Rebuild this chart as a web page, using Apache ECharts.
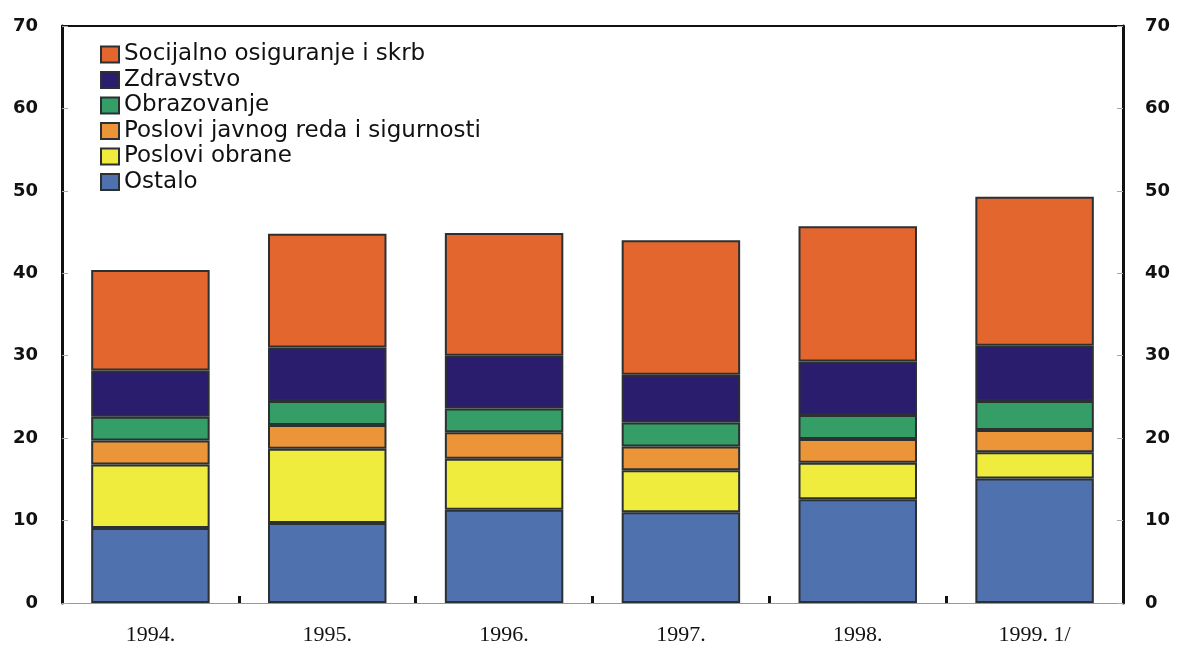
<!DOCTYPE html>
<html>
<head>
<meta charset="utf-8">
<script src="https://cdn.jsdelivr.net/npm/echarts@6/dist/echarts.min.js"></script>
<style>
  html, body { margin: 0; padding: 0; background: #fff; }
  #main { width: 1177px; height: 646px; }
</style>
</head>
<body>
<div id="main"></div>
<script>
var years = ['1994.', '1995.', '1996.', '1997.', '1998.', '1999. 1/'];
var ostalo = [9.1, 9.7, 11.3, 11.0, 12.6, 15.1];
var obrana = [7.7, 9.0, 6.2, 5.1, 4.4, 3.2];
var javniRed = [2.9, 2.9, 3.2, 2.9, 2.9, 2.7];
var obrazovanje = [2.9, 2.9, 2.9, 2.9, 2.9, 3.5];
var zdravstvo = [5.6, 6.5, 6.4, 5.8, 6.5, 6.7];
var socijalno = [12.2, 13.8, 14.9, 16.3, 16.4, 18.1];
var yTicks = [0, 10, 20, 30, 40, 50, 60, 70];

var chartDom = document.getElementById('main');
var myChart = echarts.init(chartDom);

var border = { borderColor: '#2b3033', borderWidth: 2 };

function makeSeries(name, data, color) {
  return {
    name: name,
    type: 'bar',
    stack: 'total',
    barCategoryGap: '33%',
    data: data,
    itemStyle: { color: color, borderColor: border.borderColor, borderWidth: border.borderWidth }
  };
}

var yAxisCommon = {
  type: 'value',
  min: yTicks[0],
  max: yTicks[yTicks.length - 1],
  interval: 10,
  axisLine: { show: true, lineStyle: { color: '#111', width: 3 } },
  axisTick: { show: true, inside: true, length: 6, lineStyle: { color: '#aaa' } },
  splitLine: { show: false },
  axisLabel: { fontFamily: 'DejaVu Sans', fontWeight: 'bold', fontSize: 18, color: '#111' }
};

var option = {
  animation: false,
  grid: { left: 62, right: 54, top: 26, bottom: 42 },
  legend: {
    orient: 'vertical',
    left: 100,
    top: 43,
    padding: 0,
    icon: 'rect',
    itemWidth: 18,
    itemHeight: 16,
    itemGap: 2.5,
    data: ['Socijalno osiguranje i skrb', 'Zdravstvo', 'Obrazovanje',
      'Poslovi javnog reda i sigurnosti', 'Poslovi obrane', 'Ostalo'],
    textStyle: { fontFamily: 'DejaVu Sans', fontSize: 23, lineHeight: 22, color: '#111', padding: [0, 0, 0, 0] },
    itemStyle: { borderColor: '#2b3033', borderWidth: 2 }
  },
  xAxis: [
    {
      type: 'category',
      data: years,
      axisLine: { show: true, onZero: false, lineStyle: { color: '#999', width: 1 } },
      axisTick: { show: true, inside: true, length: 7, lineStyle: { color: '#111', width: 3 } },
      axisLabel: { fontFamily: 'Liberation Serif', fontSize: 22, color: '#111', margin: 21 }
    },
    {
      type: 'category',
      position: 'top',
      data: years,
      axisLine: { show: true, onZero: false, lineStyle: { color: '#111', width: 2 } },
      axisTick: { show: false },
      axisLabel: { show: false }
    }
  ],
  yAxis: [
    Object.assign({}, yAxisCommon, { position: 'left', axisLabel: Object.assign({}, yAxisCommon.axisLabel, { margin: 24 }) }),
    Object.assign({}, yAxisCommon, { position: 'right', axisLabel: Object.assign({}, yAxisCommon.axisLabel, { margin: 22 }) })
  ],
  series: [
    makeSeries('Ostalo', ostalo, '#4f71ae'),
    makeSeries('Poslovi obrane', obrana, '#f0ec3e'),
    makeSeries('Poslovi javnog reda i sigurnosti', javniRed, '#ec9538'),
    makeSeries('Obrazovanje', obrazovanje, '#349e66'),
    makeSeries('Zdravstvo', zdravstvo, '#2b1d6e'),
    makeSeries('Socijalno osiguranje i skrb', socijalno, '#e4662f')
  ]
};

option && myChart.setOption(option);
</script>
</body>
</html>
